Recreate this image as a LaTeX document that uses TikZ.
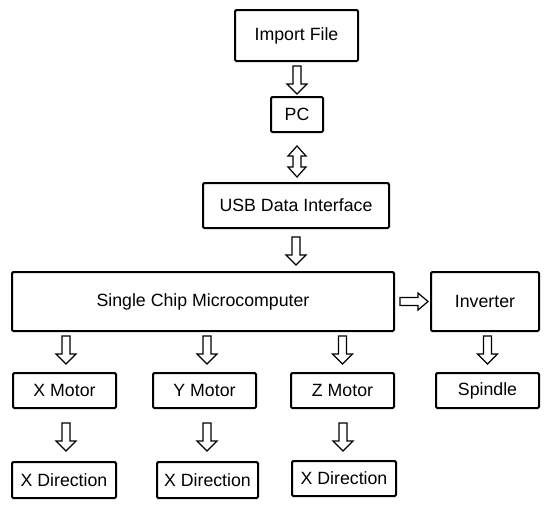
\documentclass[tikz,border=0pt]{standalone}
\usepackage{fontspec}
\setmainfont{Liberation Sans}
\begin{document}
\begin{tikzpicture}[x=0.75pt,y=-0.75pt,
  box/.style={draw, line width=1.5pt, rounded corners=1pt, inner sep=0pt, font=\fontsize{13.3}{16}\selectfont},
  blk/.style={draw, line width=0.9pt, line join=miter, fill=white},
  dnarr/.pic={\draw[blk] (-4,0) -- (4,0) -- (4,18) -- (10,18) -- (0,28) -- (-10,18) -- (-4,18) -- cycle;},
  rtarr/.pic={\draw[blk] (0,-4) -- (0,4) -- (18,4) -- (18,8.5) -- (28,0) -- (18,-8.5) -- (18,-4) -- cycle;},
  dblarr/.pic={\draw[blk] (0,0) -- (9,10) -- (4,10) -- (4,21) -- (9,21) -- (0,31) -- (-9,21) -- (-4,21) -- (-4,10) -- (-9,10) -- cycle;}
]
\useasboundingbox (0,0) rectangle (554,508);
\node[box, minimum width={123*0.75pt}, minimum height={51*0.75pt}] (imp) at (296.5,35.5) {Import File};
\node[box, minimum width={52*0.75pt}, minimum height={35*0.75pt}] (pc) at (297,114.5) {PC};
\node[box, minimum width={186*0.75pt}, minimum height={45*0.75pt}] (usb) at (296,205.5) {USB Data Interface};
\node[box, minimum width={382*0.75pt}, minimum height={59*0.75pt}] (scm) at (203,301.5) {Single Chip Microcomputer\hspace{12pt}};
\node[box, minimum width={108*0.75pt}, minimum height={59*0.75pt}] (inv) at (485,301.5) {Inverter};
\node[box, minimum width={103*0.75pt}, minimum height={35*0.75pt}] (xm) at (64.5,390.5) {X Motor};
\node[box, minimum width={103*0.75pt}, minimum height={35*0.75pt}] (ym) at (204.5,390.5) {Y Motor};
\node[box, minimum width={103*0.75pt}, minimum height={35*0.75pt}] (zm) at (342.5,390.5) {Z Motor};
\node[box, minimum width={103*0.75pt}, minimum height={35*0.75pt}] (sp) at (487.5,390.5) {Spindle};
\node[box, minimum width={104*0.75pt}, minimum height={36*0.75pt}] (xd1) at (64,480) {X Direction};
\node[box, minimum width={101*0.75pt}, minimum height={36*0.75pt}] (xd2) at (207.5,480) {X Direction};
\node[box, minimum width={104*0.75pt}, minimum height={35*0.75pt}] (xd3) at (344,478.5) {X Direction};
% block arrows
\path (pc.north |- imp.south) ++(0,4) pic {dnarr};
\path (pc.south) ++(0,13) pic {dblarr};
\path (usb.south) ++(0,8) pic {dnarr};
\path (scm.east) ++(5,0) pic {rtarr};
\path (xm.north |- scm.south) ++(1.5,4) pic {dnarr};
\path (ym.north |- scm.south) ++(2.5,4) pic {dnarr};
\path (zm.north |- scm.south) ++(0,4) pic {dnarr};
\path (sp.north |- inv.south) ++(0,4) pic {dnarr};
\path (xm.south) ++(1.5,14) pic {dnarr};
\path (ym.south) ++(2.5,14) pic {dnarr};
\path (zm.south) ++(0.5,14) pic {dnarr};
\end{tikzpicture}
\end{document}
